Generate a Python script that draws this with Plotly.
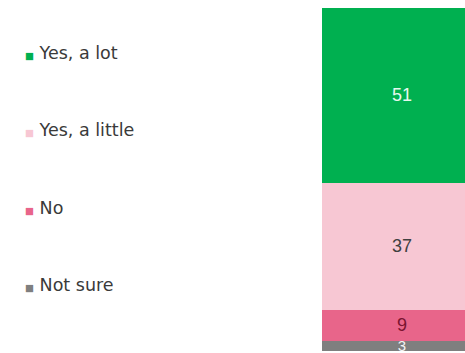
import plotly.graph_objects as go

categories = ["Not sure", "No", "Yes, a little", "Yes, a lot"]
values = [3, 9, 37, 51]
colors = ["#7F7F7F", "#E8658A", "#F7C7D3", "#00B050"]
label_colors = ["#F4F4F4", "#7A1430", "#404040", "#E8F8EE"]

fig = go.Figure()
for cat, val, col, lc in zip(categories, values, colors, label_colors):
    fig.add_trace(go.Bar(
        x=[0], y=[val], name=cat, marker=dict(color=col, line=dict(width=0)),
        width=1, text=[str(val)], textposition="inside", insidetextanchor="middle",
        constraintext="none", textangle=0,
        textfont=dict(family="Liberation Sans, Arial", size=18 if val > 5 else 15, color=lc),
        showlegend=False, hoverinfo="skip"))

# legend drawn as annotations (top to bottom)
legend_y = [0.869, 0.644, 0.417, 0.192]
annots = []
for ly, cat, col in zip(legend_y, reversed(categories), reversed(colors)):
    annots.append(dict(
        xref="paper", yref="paper", x=-2.092, y=ly,
        xanchor="left", yanchor="middle", showarrow=False,
        text=f"<span style='font-size:9.5px;color:{col}'>■</span>&nbsp;{cat}",
        font=dict(family="DejaVu Sans", size=17.5, color="#3A3A3A")))

fig.update_layout(
    width=465, height=353, barmode="stack",
    margin=dict(l=322, r=0, t=8, b=2),
    paper_bgcolor="white", plot_bgcolor="white",
    xaxis=dict(range=[-0.5, 0.394], visible=False, fixedrange=True),
    yaxis=dict(range=[0, 100], visible=False, fixedrange=True),
    annotations=annots,
)
fig.write_html("out.html")
